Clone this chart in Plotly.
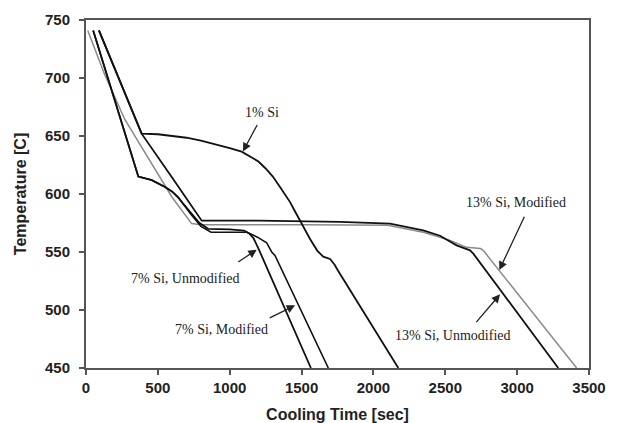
import plotly.graph_objects as go

# ---- data ----
si1_time = [90, 387, 500, 600, 700, 800, 900, 1000, 1083, 1150, 1200, 1250, 1300, 1350, 1385, 1420, 1450, 1489, 1512, 1560, 1610, 1651, 1698, 1730, 1753, 2173]
si1_temp = [741, 652, 651.5, 650, 648.5, 646, 643, 639.5, 636.5, 632, 628, 622, 615, 606, 600, 593, 586, 577, 571, 561, 551, 546, 544, 539, 534, 450]

si7u_time = [50, 364, 457, 550, 600, 642, 680, 720, 790, 850, 1000, 1100, 1135, 1165, 1200, 1565]
si7u_temp = [741, 615, 612, 606, 602, 597, 591, 585, 575, 570, 569.5, 568.5, 566, 562, 553, 450]

si7m_time = [50, 364, 457, 550, 600, 642, 680, 720, 800, 870, 1000, 1120, 1190, 1257, 1292, 1315, 1686]
si7m_temp = [741, 615, 612, 606, 602, 597, 591, 584, 572, 567, 567, 567, 563, 558, 550, 547, 450]

si13u_time = [90, 387, 600, 805, 1200, 1767, 2115, 2347, 2463, 2579, 2672, 2695, 3286]
si13u_temp = [741, 652, 614, 577, 577, 576, 574.4, 568.6, 564, 555.7, 551.4, 548.6, 450]

si13m_time = [12, 130, 271, 450, 600, 735, 800, 1500, 2100, 2347, 2533, 2649, 2718, 2745, 2764, 3414]
si13m_temp = [741, 703, 664, 627, 597, 574.5, 573.5, 573.5, 573, 567, 560, 554, 553.7, 553, 551.4, 450]

x_ticks = [0, 500, 1000, 1500, 2000, 2500, 3000, 3500]
y_ticks = [450, 500, 550, 600, 650, 700, 750]

labels = ["1% Si", "7% Si, Unmodified", "7% Si, Modified", "13% Si, Unmodified", "13% Si, Modified"]
label_x = [1228, 692, 946, 2557, 2992]
label_y = [670.3, 527.5, 483, 477.8, 593]
arrow_tail_x = [1197, 1049, 1268, 2707, 3055]
arrow_tail_y = [660.8, 540.5, 492.6, 488.3, 581.6]
arrow_tip_x = [1092, 1188, 1455, 2881, 2876]
arrow_tip_y = [636.7, 552, 504, 513.5, 534.5]

fig = go.Figure()
series = [
    (si13m_time, si13m_temp, "#8a8a8a", 1.5),
    (si13u_time, si13u_temp, "#111111", 1.8),
    (si7u_time, si7u_temp, "#111111", 1.8),
    (si7m_time, si7m_temp, "#111111", 1.6),
    (si1_time, si1_temp, "#111111", 1.8),
]
for t, v, c, w in series:
    fig.add_trace(go.Scatter(x=t, y=v, mode="lines", line=dict(color=c, width=w),
                             showlegend=False, hoverinfo="skip"))

serif = "Liberation Serif, Times New Roman, serif"
for i, txt in enumerate(labels):
    fig.add_annotation(x=label_x[i], y=label_y[i], text=txt, showarrow=False,
                       font=dict(family=serif, size=14, color="#222"))
    fig.add_annotation(x=arrow_tip_x[i], y=arrow_tip_y[i], ax=arrow_tail_x[i], ay=arrow_tail_y[i],
                       axref="x", ayref="y", text="", showarrow=True,
                       arrowhead=2, arrowsize=1.3, arrowwidth=1.3, arrowcolor="#222")

sans = "Liberation Sans, Arial, sans-serif"
# the page body adds an 8px margin, so the figure is sized to fit the 620x423 window
fig.update_layout(
    width=612, height=415,
    margin=dict(l=78, r=31, t=12, b=55, autoexpand=False),
    paper_bgcolor="white", plot_bgcolor="white",
    xaxis=dict(range=[0, 3500], tickvals=x_ticks, showgrid=False, zeroline=False,
               automargin=False,
               showline=True, mirror=True, linecolor="#555", linewidth=2,
               ticks="outside", ticklen=5, tickwidth=1.5, tickcolor="#555",
               tickfont=dict(family=sans, size=15, color="#222", weight="bold"),
               title=dict(text="Cooling Time [sec]", standoff=16,
                          font=dict(family=sans, size=16, color="#222", weight="bold"))),
    yaxis=dict(range=[450, 750], tickvals=y_ticks, showgrid=False, zeroline=False,
               automargin=False,
               showline=True, mirror=True, linecolor="#555", linewidth=2,
               ticks="outside", ticklen=5, tickwidth=1.5, tickcolor="#555",
               ticklabelstandoff=6,
               tickfont=dict(family=sans, size=15, color="#222", weight="bold"),
               title=dict(text="Temperature [C]", standoff=14,
                          font=dict(family=sans, size=16, color="#222", weight="bold"))),
)

fig.write_html("out.html")
